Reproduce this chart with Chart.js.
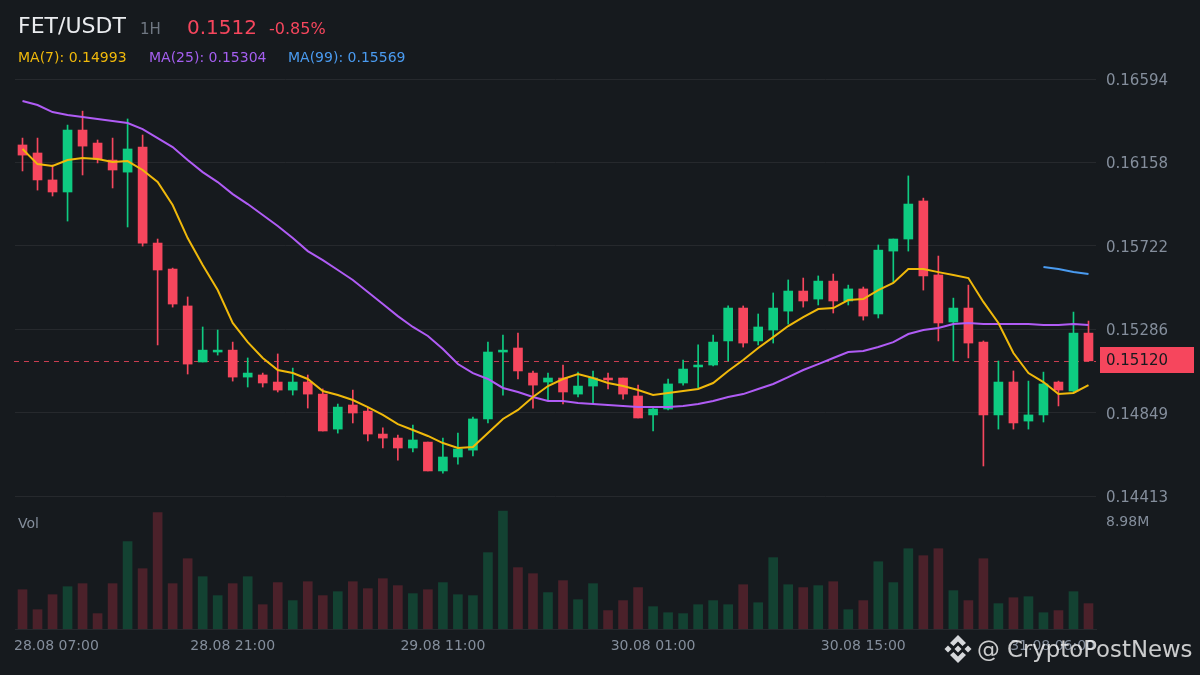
<!DOCTYPE html>
<html>
<head>
<meta charset="utf-8">
<title>FET/USDT</title>
<script src="https://cdn.jsdelivr.net/npm/chart.js@4/dist/chart.umd.min.js"></script>
<style>
  html, body { margin: 0; background: #161a1e; }
  #wrap { position: relative; width: 1200px; height: 675px; overflow: hidden; font-family: "DejaVu Sans", sans-serif; }
  #wrap canvas { position: absolute; left: 0; top: 0; }
  .txt { position: absolute; white-space: nowrap; line-height: 1; }
  #wm { position: absolute; left: 944px; top: 635px; display: flex; align-items: center; color: rgba(255,255,255,.78); font-size: 22.8px; }
  #wm svg { margin-right: 5px; }
</style>
</head>
<body>
<div id="wrap">
  <canvas id="chart" width="1200" height="675"></canvas>
  <div class="txt" style="left:18px;top:15px;font-size:22px;color:#eaecef">FET/USDT</div>
  <div class="txt" style="left:140px;top:22px;font-size:15px;color:#6f7782">1H</div>
  <div class="txt" style="left:187px;top:17px;font-size:20px;color:#f6465d">0.1512</div>
  <div class="txt" style="left:269px;top:21px;font-size:16px;color:#f6465d">-0.85%</div>
  <div class="txt" style="left:18px;top:50px;font-size:14px;color:#f0b90b">MA(7): 0.14993</div>
  <div class="txt" style="left:149px;top:50px;font-size:14px;color:#a55ff0">MA(25): 0.15304</div>
  <div class="txt" style="left:288px;top:50px;font-size:14px;color:#4a9bf0">MA(99): 0.15569</div>
  <div class="txt" style="left:18px;top:516px;font-size:14px;color:#848e9c">Vol</div>
  <div id="wm">
    <svg width="28" height="28" viewBox="0 0 28 28" fill="#d6d8db">
      <path d="M14 0 L22 8 L18.5 11 L14 6.5 L9.5 11 L6 8 Z"/>
      <path d="M14 28 L22 20 L18.5 17 L14 21.5 L9.5 17 L6 20 Z"/>
      <path d="M4 10.5 L7.5 14 L4 17.5 L.5 14 Z"/>
      <path d="M24 10.5 L27.5 14 L24 17.5 L20.5 14 Z"/>
      <path d="M14 10.5 L17.5 14 L14 17.5 L10.5 14 Z"/>
    </svg>
    <span>@ CryptoPostNews</span>
  </div>
</div>
<script>
// свечи FET/USDT 1H
const opens = [0.16249,0.16207,0.16066,0.16003,0.16327,0.16259,0.16170,0.16107,0.16238,0.15736,
  0.15600,0.15407,0.15114,0.15166,0.15176,0.15035,0.15046,0.15009,0.14967,0.15009,
  0.14946,0.14763,0.14889,0.14857,0.14737,0.14716,0.14664,0.14695,0.14544,0.14617,
  0.14653,0.14816,0.15166,0.15187,0.15056,0.15009,0.15030,0.14946,0.14988,0.15030,
  0.15030,0.14936,0.14837,0.14868,0.15004,0.15088,0.15098,0.15224,0.15396,0.15224,
  0.15281,0.15380,0.15485,0.15443,0.15537,0.15433,0.15496,0.15365,0.15694,0.15757,
  0.15956,0.15569,0.15323,0.15396,0.15218,0.14837,0.15009,0.14805,0.14837,0.15009,
  0.14962,0.15265];
const highs = [0.16285,0.16285,0.16144,0.16353,0.16426,0.16275,0.16285,0.16385,0.16301,0.15757,
  0.15605,0.15454,0.15297,0.15281,0.15218,0.15135,0.15056,0.15156,0.15082,0.15046,
  0.14973,0.14894,0.14967,0.14873,0.14769,0.14732,0.14784,0.14695,0.14716,0.14742,
  0.14826,0.15218,0.15255,0.15265,0.15067,0.15056,0.15098,0.15061,0.15067,0.15056,
  0.15030,0.14993,0.14878,0.15025,0.15124,0.15203,0.15255,0.15407,0.15407,0.15365,
  0.15475,0.15543,0.15553,0.15564,0.15574,0.15516,0.15506,0.15726,0.15757,0.16087,
  0.15971,0.15668,0.15448,0.15516,0.15224,0.15119,0.15067,0.15014,0.15061,0.15014,
  0.15375,0.15328];
const lows = [0.16113,0.16013,0.15982,0.15851,0.16092,0.16155,0.16024,0.15820,0.15720,0.15203,
  0.15401,0.15051,0.15114,0.15150,0.15014,0.14983,0.14983,0.14957,0.14941,0.14873,
  0.14753,0.14742,0.14795,0.14701,0.14664,0.14601,0.14643,0.14544,0.14533,0.14580,
  0.14622,0.14795,0.14941,0.15025,0.14873,0.14915,0.14894,0.14931,0.14899,0.14973,
  0.14920,0.14821,0.14753,0.14863,0.14993,0.14978,0.15093,0.15119,0.15192,0.15203,
  0.15213,0.15312,0.15401,0.15412,0.15370,0.15412,0.15333,0.15344,0.15532,0.15694,
  0.15490,0.15224,0.15119,0.15135,0.14570,0.14763,0.14763,0.14763,0.14800,0.14884,
  0.14952,0.15119];
const closes = [0.16196,0.16066,0.16003,0.16327,0.16243,0.16175,0.16118,0.16228,0.15736,0.15595,
  0.15417,0.15103,0.15176,0.15176,0.15035,0.15056,0.15004,0.14967,0.15009,0.14946,
  0.14753,0.14878,0.14847,0.14737,0.14716,0.14664,0.14706,0.14544,0.14617,0.14659,
  0.14816,0.15166,0.15176,0.15067,0.14993,0.15030,0.14957,0.14988,0.15030,0.15020,
  0.14946,0.14821,0.14868,0.14999,0.15077,0.15098,0.15218,0.15396,0.15213,0.15297,
  0.15396,0.15485,0.15433,0.15537,0.15433,0.15496,0.15354,0.15699,0.15757,0.15940,
  0.15564,0.15318,0.15396,0.15213,0.14837,0.15009,0.14795,0.14837,0.14999,0.14967,
  0.15265,0.15120];
const volumes = [2.99,1.47,2.61,3.22,3.45,1.17,3.45,6.65,4.59,8.85,
  3.45,5.35,3.98,2.54,3.45,3.98,1.85,3.53,2.16,3.60,
  2.54,2.84,3.60,3.07,3.83,3.30,2.69,2.99,3.53,2.61,
  2.54,5.81,8.98,4.67,4.21,2.77,3.68,2.23,3.45,1.40,
  2.16,3.15,1.70,1.24,1.17,1.85,2.16,1.85,3.37,2.00,
  5.43,3.37,3.15,3.30,3.60,1.47,2.16,5.12,3.53,6.11,
  5.58,6.11,2.92,2.16,5.35,1.93,2.38,2.46,1.24,1.40,
  2.84,1.93];
const ma7 = [0.16228,0.16149,0.16139,0.16170,0.16181,0.16175,0.16160,0.16165,0.16118,0.16055,
  0.15935,0.15762,0.15621,0.15490,0.15318,0.15218,0.15135,0.15072,0.15056,0.15025,
  0.14962,0.14941,0.14915,0.14878,0.14837,0.14789,0.14758,0.14727,0.14690,0.14664,
  0.14669,0.14742,0.14816,0.14863,0.14931,0.14988,0.15025,0.15051,0.15030,0.15004,
  0.14988,0.14967,0.14941,0.14952,0.14962,0.14973,0.15004,0.15067,0.15124,0.15187,
  0.15244,0.15302,0.15349,0.15391,0.15396,0.15438,0.15443,0.15490,0.15527,0.15600,
  0.15600,0.15584,0.15569,0.15553,0.15428,0.15318,0.15161,0.15056,0.15009,0.14946,
  0.14952,0.14993];
const ma25 = [0.16479,0.16458,0.16421,0.16406,0.16395,0.16385,0.16374,0.16364,0.16332,0.16285,
  0.16238,0.16170,0.16107,0.16055,0.15992,0.15940,0.15883,0.15825,0.15762,0.15694,
  0.15647,0.15595,0.15543,0.15480,0.15417,0.15354,0.15297,0.15250,0.15182,0.15103,
  0.15056,0.15025,0.14978,0.14957,0.14931,0.14910,0.14910,0.14899,0.14894,0.14889,
  0.14884,0.14878,0.14878,0.14878,0.14884,0.14894,0.14910,0.14931,0.14946,0.14973,
  0.14999,0.15035,0.15072,0.15103,0.15135,0.15166,0.15171,0.15192,0.15218,0.15260,
  0.15281,0.15292,0.15312,0.15318,0.15312,0.15312,0.15312,0.15312,0.15307,0.15307,
  0.15312,0.15307];
const ma99Tail = [0.15611,0.15600,0.15585,0.15574];
const timeLabels = ['28.08 07:00','28.08 21:00','29.08 11:00','30.08 01:00','30.08 15:00','31.08 06:00'];
const timeTickIndex = [0,14,28,42,56,71];
const priceTicks = [0.16594,0.16158,0.15722,0.15286,0.14849,0.14413];
const volumeTick = 8.98;
const lastPrice = 0.1512;

const UP = '#0ecb81', DOWN = '#f6465d', GRID = '#26292d', TICK = '#848e9c';
const UP_VOL = '#134232', DOWN_VOL = '#4b212a';

const isUp = i => closes[i] >= opens[i];
const colors = opens.map((o, i) => isUp(i) ? UP : DOWN);
const labels = opens.map((o, i) => i);
const ma99 = opens.map((o, i) => i < opens.length - ma99Tail.length ? null : ma99Tail[i - opens.length + ma99Tail.length]);

// пунктир и плашка текущей цены + подписи времени, прижатые к краям панели
const overlay = {
  id: 'overlay',
  beforeDatasetsDraw(chart) {
    const { ctx, chartArea, scales } = chart;
    const y = Math.round(scales.price.getPixelForValue(lastPrice)) + 0.5;
    ctx.save();
    ctx.strokeStyle = DOWN;
    ctx.globalAlpha = 0.8;
    ctx.lineWidth = 1;
    ctx.setLineDash([5, 5]);
    ctx.beginPath();
    ctx.moveTo(chartArea.left - 1, y);
    ctx.lineTo(chartArea.right, y);
    ctx.stroke();
    ctx.restore();
  },
  afterDraw(chart) {
    const { ctx, chartArea, scales } = chart;
    const y = scales.price.getPixelForValue(lastPrice);
    ctx.save();
    ctx.fillStyle = DOWN;
    ctx.fillRect(chartArea.right + 4, Math.round(y) - 14, 94, 26);
    ctx.fillStyle = '#161a1e';
    ctx.font = '15px "DejaVu Sans"';
    ctx.textAlign = 'left';
    ctx.textBaseline = 'middle';
    ctx.fillText(lastPrice.toFixed(5), chartArea.right + 10, Math.round(y));
    ctx.fillStyle = TICK;
    ctx.font = '14px "DejaVu Sans"';
    ctx.textAlign = 'center';
    timeTickIndex.forEach((idx, n) => {
      const half = ctx.measureText(timeLabels[n]).width / 2;
      const x = Math.min(Math.max(scales.x.getPixelForValue(idx), chartArea.left - 1 + half), chartArea.right - 1 - half);
      ctx.fillText(timeLabels[n], x, chartArea.bottom + 17);
    });
    ctx.restore();
  }
};

new Chart(document.getElementById('chart'), {
  data: {
    labels: labels,
    datasets: [
      { type: 'line', data: ma7, yAxisID: 'price', borderColor: '#f0b90b', borderWidth: 2, pointRadius: 0, order: 1 },
      { type: 'line', data: ma25, yAxisID: 'price', borderColor: '#b05cf5', borderWidth: 2, pointRadius: 0, order: 2 },
      { type: 'line', data: ma99, yAxisID: 'price', borderColor: '#4a9bf0', borderWidth: 2, pointRadius: 0, order: 3 },
      { type: 'bar', data: opens.map((o, i) => [o, closes[i]]), yAxisID: 'price', backgroundColor: colors, barThickness: 9, grouped: false, order: 4 },
      { type: 'bar', data: lows.map((l, i) => [l, highs[i]]), yAxisID: 'price', backgroundColor: colors, barThickness: 1, grouped: false, order: 5 },
      { type: 'bar', data: volumes, yAxisID: 'vol', backgroundColor: opens.map((o, i) => isUp(i) ? UP_VOL : DOWN_VOL), barThickness: 9, grouped: false, order: 6 }
    ]
  },
  options: {
    responsive: false,
    animation: false,
    devicePixelRatio: 1,
    layout: { padding: { top: 79, left: 15 } },
    plugins: { legend: { display: false }, tooltip: { enabled: false } },
    scales: {
      x: {
        type: 'category',
        position: 'bottom',
        grid: { display: false },
        border: { color: GRID },
        ticks: { display: false },
        afterFit(scale) { scale.height = 46; }
      },
      price: {
        type: 'linear',
        position: 'right',
        stack: 'panes',
        stackWeight: 417,
        min: 0.14413,
        max: 0.16594,
        afterBuildTicks(scale) { scale.ticks = priceTicks.map(v => ({ value: v })); },
        afterFit(scale) { scale.width = 104; },
        grid: { color: GRID, drawTicks: false },
        border: { display: false },
        ticks: { color: TICK, padding: 10, labelOffset: 2, font: { family: 'DejaVu Sans', size: 15 }, callback: v => v.toFixed(5), crossAlign: 'near' }
      },
      vol: {
        type: 'linear',
        position: 'right',
        stack: 'panes',
        stackWeight: 133,
        min: 0,
        max: 10.12,
        afterBuildTicks(scale) { scale.ticks = [{ value: volumeTick }]; },
        afterFit(scale) { scale.width = 104; },
        grid: { display: false, drawTicks: false },
        border: { display: false },
        ticks: { color: TICK, padding: 10, labelOffset: 11, font: { family: 'DejaVu Sans', size: 14 }, callback: v => v.toFixed(2) + 'M', crossAlign: 'near' }
      }
    }
  },
  plugins: [overlay]
});
</script>
</body>
</html>
